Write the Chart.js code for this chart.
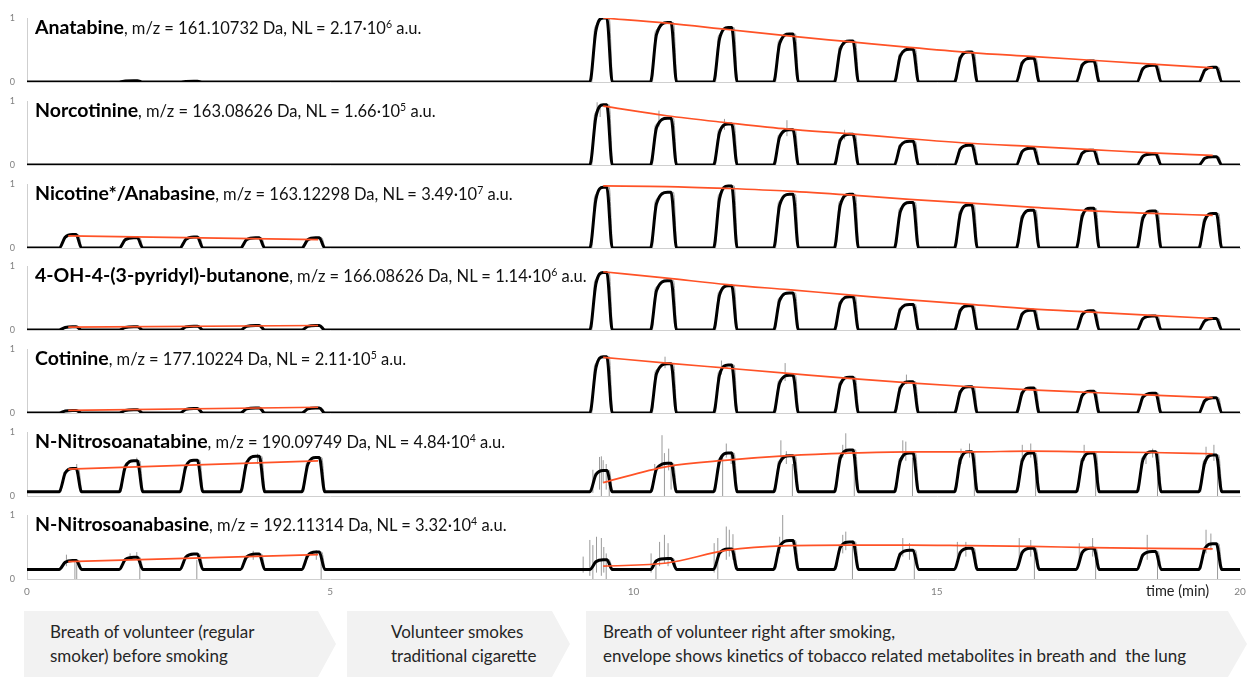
<!DOCTYPE html>
<html>
<head>
<meta charset="utf-8">
<script src="https://cdn.jsdelivr.net/npm/chart.js@4.4.0/dist/chart.umd.min.js"></script>
<style>
  body { margin: 0; background: #fff; font-family: Lato, "Open Sans", sans-serif; }
  #wrap { position: relative; width: 1247px; height: 677px; overflow: hidden; }
  .panel { position: absolute; left: 0; width: 1247px; }
  .ttl { position: absolute; left: 35px; white-space: nowrap; font-size: 16.5px; line-height: 22px; color: #111; }
  .ttl b { font-size: 19.5px; color: #000; }
  .ttl sup { font-size: 10.5px; line-height: 0; }
  .xlab { position: absolute; left: 1146px; top: 582px; font-size: 14.5px; color: #222; }
  .box { position: absolute; top: 611px; height: 66px; background: #f2f2f2; box-sizing: border-box;
         padding-top: 9px; font-size: 17px; line-height: 24px; color: #262626; white-space: nowrap; }
</style>
</head>
<body>
<div id="wrap">
  <div class="xlab">time (min)</div>
  <div class="box" style="left:24px;width:312px;padding-left:26px;clip-path:polygon(0 0,294px 0,312px 50%,294px 100%,0 100%)">Breath of volunteer (regular<br>smoker) before smoking</div>
  <div class="box" style="left:347px;width:223px;padding-left:44px;clip-path:polygon(0 0,205px 0,223px 50%,205px 100%,0 100%)">Volunteer smokes<br>traditional cigarette</div>
  <div class="box" style="left:586px;width:661px;padding-left:17px;clip-path:polygon(0 0,642px 0,661px 50%,642px 100%,0 100%)">Breath of volunteer right after smoking,<br>envelope shows kinetics of tobacco related metabolites in breath and&nbsp; the lung</div>
</div>
<script>
// ── Panel labels ────────────────────────────────────────────────────────────
const COMPOUNDS = ['Anatabine', 'Norcotinine', 'Nicotine*/Anabasine', '4-OH-4-(3-pyridyl)-butanone',
  'Cotinine', 'N-Nitrosoanatabine', 'N-Nitrosoanabasine'];
const MZ = ['161.10732', '163.08626', '163.12298', '166.08626', '177.10224', '190.09749', '192.11314'];
const NL_MANT = ['2.17', '1.66', '3.49', '1.14', '2.11', '4.84', '3.32'];
const NL_EXP = ['6', '5', '7', '6', '5', '4', '4'];

// ── Breath pulses (min): start of rise / end of fall ───────────────────────
const PRE_START = [0.53, 1.52, 2.52, 3.52, 4.53];
const PRE_END = [0.90, 1.91, 2.90, 3.92, 4.91];
const POST_START = [9.28, 10.28, 11.32, 12.31, 13.31, 14.30, 15.29, 16.31, 17.30, 18.30, 19.32];
const POST_END = [9.65, 10.71, 11.71, 12.72, 13.71, 14.70, 15.67, 16.69, 17.68, 18.70, 19.70];

// normalised signal level between breaths
const BASE = [0, 0, 0, 0, 0, 0.065, 0.15];

// pulse heights before smoking, one row per panel
const PRE_PEAKS = [
  [0, 0.02, 0.01, 0, 0],
  [0, 0, 0, 0, 0],
  [0.21, 0.16, 0.17, 0.16, 0.16],
  [0.05, 0.05, 0.06, 0.07, 0.07],
  [0.04, 0.05, 0.07, 0.08, 0.08],
  [0.43, 0.55, 0.56, 0.62, 0.60],
  [0.29, 0.34, 0.39, 0.39, 0.42],
];
// pulse heights after smoking
const POST_PEAKS = [
  [1.00, 0.93, 0.85, 0.75, 0.64, 0.51, 0.47, 0.37, 0.33, 0.26, 0.23],
  [0.94, 0.73, 0.64, 0.55, 0.48, 0.37, 0.31, 0.26, 0.23, 0.17, 0.13],
  [0.95, 0.87, 0.97, 0.84, 0.84, 0.71, 0.67, 0.59, 0.62, 0.58, 0.54],
  [0.90, 0.77, 0.69, 0.58, 0.52, 0.40, 0.38, 0.31, 0.30, 0.22, 0.18],
  [0.88, 0.77, 0.75, 0.59, 0.56, 0.49, 0.41, 0.39, 0.34, 0.31, 0.24],
  [0.40, 0.51, 0.67, 0.63, 0.72, 0.67, 0.69, 0.67, 0.67, 0.69, 0.64],
  [0.30, 0.32, 0.47, 0.60, 0.58, 0.45, 0.48, 0.48, 0.48, 0.43, 0.55],
];

// ── Envelopes (orange) ──────────────────────────────────────────────────────
const ENV_PRE_T = [0.68, 4.80];
const ENV_POST_T = [9.50, 10.55, 11.55, 12.55, 13.55, 14.55, 15.55, 16.55, 17.55, 18.55, 19.55];
const ENV_PRE = [null, null, [0.19, 0.13], [0.045, 0.07], [0.04, 0.09], [0.42, 0.55], [0.27, 0.38]];
const ENV_POST = [
  [1.00, 0.92, 0.82, 0.72, 0.63, 0.54, 0.46, 0.40, 0.34, 0.28, 0.22],
  [0.92, 0.77, 0.66, 0.56, 0.49, 0.41, 0.34, 0.29, 0.24, 0.19, 0.15],
  [0.97, 0.96, 0.93, 0.89, 0.83, 0.76, 0.70, 0.64, 0.58, 0.54, 0.51],
  [0.91, 0.81, 0.71, 0.63, 0.55, 0.47, 0.40, 0.33, 0.28, 0.23, 0.18],
  [0.87, 0.78, 0.70, 0.62, 0.54, 0.47, 0.41, 0.36, 0.32, 0.28, 0.24],
  [0.21, 0.46, 0.56, 0.63, 0.67, 0.69, 0.69, 0.70, 0.69, 0.68, 0.66],
  [0.20, 0.25, 0.45, 0.52, 0.53, 0.53, 0.52, 0.51, 0.49, 0.48, 0.47],
];

// ── Raw-signal spikes (gray): [time, low, high] ─────────────────────────────
const SPIKES = [
  [],
  [[9.40, 0.80, 0.98], [9.45, 0.75, 0.95], [10.42, 0.60, 0.85], [11.50, 0.55, 0.72], [12.53, 0.45, 0.70], [13.48, 0.40, 0.55]],
  [],
  [],
  [[10.52, 0.70, 0.88], [11.45, 0.60, 0.82], [12.50, 0.50, 0.78], [14.50, 0.45, 0.60]],
  [[0.82, 0.35, 0.50], [1.81, 0.45, 0.60], [3.80, 0.50, 0.66],
   [9.33, 0.05, 0.41], [9.44, 0.10, 0.61], [9.47, 0.00, 0.62], [9.50, 0.20, 0.56], [9.55, 0.10, 0.50], [9.60, 0.00, 0.30],
   [10.35, 0.30, 0.50], [10.47, 0.45, 0.95], [10.51, 0.00, 0.67], [10.58, 0.40, 0.74], [10.62, 0.10, 0.50],
   [11.47, 0.00, 0.65], [11.53, 0.60, 0.82], [11.61, 0.50, 0.70],
   [12.43, 0.55, 0.87], [12.52, 0.50, 0.70], [12.62, 0.00, 0.50],
   [13.45, 0.60, 0.80], [13.50, 0.65, 0.98], [13.64, 0.00, 0.60],
   [14.44, 0.60, 0.87], [14.49, 0.55, 0.85], [14.60, 0.00, 0.60],
   [15.40, 0.50, 0.74], [15.54, 0.60, 0.82], [15.62, 0.00, 0.60],
   [16.41, 0.55, 0.80], [16.55, 0.60, 0.82], [16.63, 0.00, 0.55],
   [17.43, 0.55, 0.80], [17.62, 0.00, 0.60],
   [18.45, 0.50, 0.64], [18.56, 0.60, 0.74], [18.64, 0.00, 0.60],
   [19.44, 0.50, 0.77], [19.57, 0.55, 0.80], [19.63, 0.00, 0.60]],
  [[0.65, 0.20, 0.38], [0.79, 0.00, 0.30], [0.82, 0.00, 0.30], [1.70, 0.30, 0.40], [1.81, 0.30, 0.42], [1.86, 0.00, 0.30],
   [2.80, 0.00, 0.30], [3.73, 0.30, 0.44], [4.77, 0.30, 0.45], [4.85, 0.00, 0.35],
   [9.17, 0.10, 0.35], [9.28, 0.05, 0.61], [9.33, 0.00, 0.53], [9.39, 0.10, 0.66], [9.47, 0.05, 0.64], [9.51, 0.10, 0.50], [9.55, 0.00, 0.40],
   [10.29, 0.10, 0.40], [10.37, 0.00, 0.30], [10.43, 0.20, 0.58], [10.51, 0.25, 0.69], [10.57, 0.20, 0.56],
   [11.33, 0.10, 0.56], [11.39, 0.00, 0.64], [11.53, 0.30, 0.82], [11.58, 0.35, 0.77], [11.64, 0.30, 0.70],
   [12.41, 0.40, 0.66], [12.46, 0.50, 1.00],
   [13.45, 0.40, 0.69], [13.50, 0.45, 0.74], [13.61, 0.00, 0.60],
   [14.44, 0.35, 0.64], [14.55, 0.30, 0.56], [14.63, 0.00, 0.40],
   [15.34, 0.30, 0.58], [15.48, 0.35, 0.58],
   [16.36, 0.30, 0.64], [16.55, 0.35, 0.61], [16.61, 0.00, 0.45],
   [17.35, 0.30, 0.56], [17.57, 0.35, 0.64], [17.62, 0.00, 0.45],
   [18.47, 0.30, 0.69], [18.64, 0.00, 0.40],
   [19.44, 0.40, 0.77], [19.52, 0.45, 0.71], [19.63, 0.00, 0.45]],
];

// ── Layout ──────────────────────────────────────────────────────────────────
const PANEL_TOPS = [18, 101, 184, 266, 349, 432, 515];
const PLOT_H = 64;
const PAD_TOP = 10;
const PAD_BOTTOM = 6;
const X_AXIS_H = 24;
const AXIS_LEFT = 27;

const COLORS = {
  trace: '#000000',
  raw: '#9a9a9a',
  envelope: '#ff5226',
  axis: '#cfcfcf',
  tick: '#808080',
};

// Builds one trace from the pulse table. The gray raw signal is drawn a bit sharper.
function buildTrace(i, raw) {
  const b = BASE[i];
  const pts = [{ x: 0, y: b }];
  const addPulse = (s, e, h) => {
    if (h <= b + 0.001) return;
    if (raw) {
      pts.push({ x: s + 0.03, y: b }, { x: s + 0.08, y: b + 0.85 * (h - b) }, { x: e - 0.05, y: h }, { x: e + 0.01, y: b });
    } else {
      pts.push({ x: s, y: b }, { x: s + 0.10, y: b + 0.8 * (h - b) }, { x: e - 0.15, y: h }, { x: e - 0.09, y: h }, { x: e, y: b });
    }
  };
  PRE_START.forEach((s, j) => addPulse(s, PRE_END[j], PRE_PEAKS[i][j]));
  POST_START.forEach((s, j) => addPulse(s, POST_END[j], POST_PEAKS[i][j]));
  pts.push({ x: 20, y: b });
  return pts;
}

function spikePoints(i) {
  const pts = [];
  SPIKES[i].forEach(([t, lo, hi]) => pts.push({ x: t, y: lo }, { x: t, y: hi }, { x: t, y: null }));
  return pts;
}

const wrap = document.getElementById('wrap');

PANEL_TOPS.forEach((top, i) => {
  const last = i === PANEL_TOPS.length - 1;

  const h = PAD_TOP + PLOT_H + (last ? X_AXIS_H : PAD_BOTTOM);
  const box = document.createElement('div');
  box.className = 'panel';
  box.style.top = (top - PAD_TOP) + 'px';
  box.style.height = h + 'px';
  const canvas = document.createElement('canvas');
  box.appendChild(canvas);
  wrap.insertBefore(box, wrap.firstChild);

  const ttl = document.createElement('div');
  ttl.className = 'ttl';
  ttl.style.top = (top - 2) + 'px';
  ttl.innerHTML = '<b>' + COMPOUNDS[i] + '</b>, m/z = ' + MZ[i] + ' Da, NL = ' + NL_MANT[i] +
    '·10<sup>' + NL_EXP[i] + '</sup> a.u.';
  wrap.appendChild(ttl);

  const datasets = [];
  if (ENV_PRE[i]) {
    datasets.push({
      data: ENV_PRE_T.map((t, j) => ({ x: t, y: ENV_PRE[i][j] })),
      borderColor: COLORS.envelope, borderWidth: 1.7, order: 0,
    });
  }
  datasets.push({
    data: ENV_POST_T.map((t, j) => ({ x: t, y: ENV_POST[i][j] })),
    borderColor: COLORS.envelope, borderWidth: 1.7, order: 0, cubicInterpolationMode: 'monotone',
  });
  datasets.push({ data: buildTrace(i, false), borderColor: COLORS.trace, borderWidth: 3, order: 1, cubicInterpolationMode: 'monotone' });
  datasets.push({ data: spikePoints(i), borderColor: COLORS.raw, borderWidth: 1, order: 2, spanGaps: false });
  datasets.push({ data: buildTrace(i, true), borderColor: COLORS.raw, borderWidth: 1, order: 3, cubicInterpolationMode: 'monotone' });

  new Chart(canvas, {
    type: 'line',
    data: { datasets },
    options: {
      responsive: true,
      maintainAspectRatio: false,
      animation: false,
      events: [],
      elements: { point: { radius: 0 }, line: { fill: false } },
      layout: { autoPadding: false, padding: { top: PAD_TOP, right: 7, left: 0, bottom: 0 } },
      plugins: { legend: { display: false }, tooltip: { enabled: false } },
      scales: {
        x: {
          type: 'linear', min: 0, max: 20,
          grid: { display: false, drawTicks: false },
          border: { display: true, color: COLORS.axis, width: 1 },
          ticks: { display: last, stepSize: 5, padding: 7, color: COLORS.tick, font: { family: 'Lato', size: 10 }, maxRotation: 0 },
          // keep the plot exactly where the reference has it: no extra room for labels
          afterFit: (s) => { s.height = last ? X_AXIS_H : PAD_BOTTOM; s.paddingLeft = 0; s.paddingRight = 0; },
        },
        y: {
          min: 0, max: 1,
          grid: { display: false, drawTicks: false },
          border: { display: true, color: COLORS.axis, width: 1 },
          ticks: { stepSize: 1, padding: 12, color: COLORS.tick, font: { family: 'Lato', size: 9 } },
          afterFit: (s) => { s.width = AXIS_LEFT; s.paddingTop = 0; s.paddingBottom = 0; },
        },
      },
    },
  });
});
</script>
</body>
</html>
